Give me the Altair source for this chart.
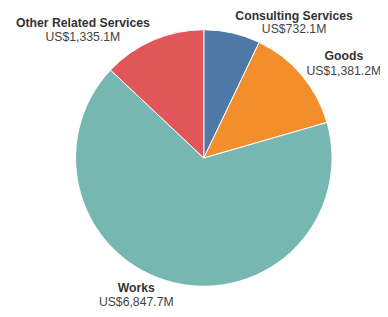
import altair as alt
import pandas as pd

categories = ["Consulting Services", "Goods", "Works", "Other Related Services"]
values = [732.1, 1381.2, 6847.7, 1335.1]
colors = ["#4e79a7", "#f28e2b", "#76b7b2", "#e15759"]

df = pd.DataFrame({"cat": categories, "val": values})

base = alt.Chart(df).transform_window(idx="row_number()")

theta = alt.Theta("val:Q", stack=True)
order = alt.Order("idx:Q")

pie = base.mark_arc(radius=131, stroke="white", strokeWidth=1).encode(
    theta=theta,
    order=order,
    color=alt.Color("cat:N", scale=alt.Scale(domain=categories, range=colors), legend=None),
)

# per-label nudges (dx, name dy, value dy) from the slice mid-angle anchor
nudges = {
    "Consulting Services": (59.0, 5.0, 19.0),
    "Goods": (28.6, -3.0, 12.0),
    "Works": (-33.7, -9.0, 5.0),
    "Other Related Services": (-64.1, 4.0, 18.0),
}

layers = [pie]
for c in categories:
    dx, dyn, dyv = nudges[c]
    name = base.transform_calculate(
        lbl=f"datum.cat == '{c}' ? datum.cat : ''"
    ).mark_text(radius=150, dx=dx, dy=dyn, baseline="alphabetic", align="center",
                font="Liberation Sans", fontSize=12.5, fontWeight="bold", color="#333333").encode(
        theta=theta, order=order, text="lbl:N")
    val = base.transform_calculate(
        lbl=f"datum.cat == '{c}' ? 'US$' + format(datum.val, ',.1f') + 'M' : ''"
    ).mark_text(radius=150, dx=dx, dy=dyv, baseline="alphabetic", align="center",
                font="Liberation Sans", fontSize=12.5, color="#444444").encode(
        theta=theta, order=order, text="lbl:N")
    layers += [name, val]

chart = alt.layer(*layers).properties(
    width=300, height=260,
    padding={"left": 50, "top": 20, "right": 30, "bottom": 20},
    autosize=alt.AutoSizeParams(type="none"),
).configure_view(stroke=None)

chart.save("out.html", embed_options={"renderer": "svg", "actions": False})
